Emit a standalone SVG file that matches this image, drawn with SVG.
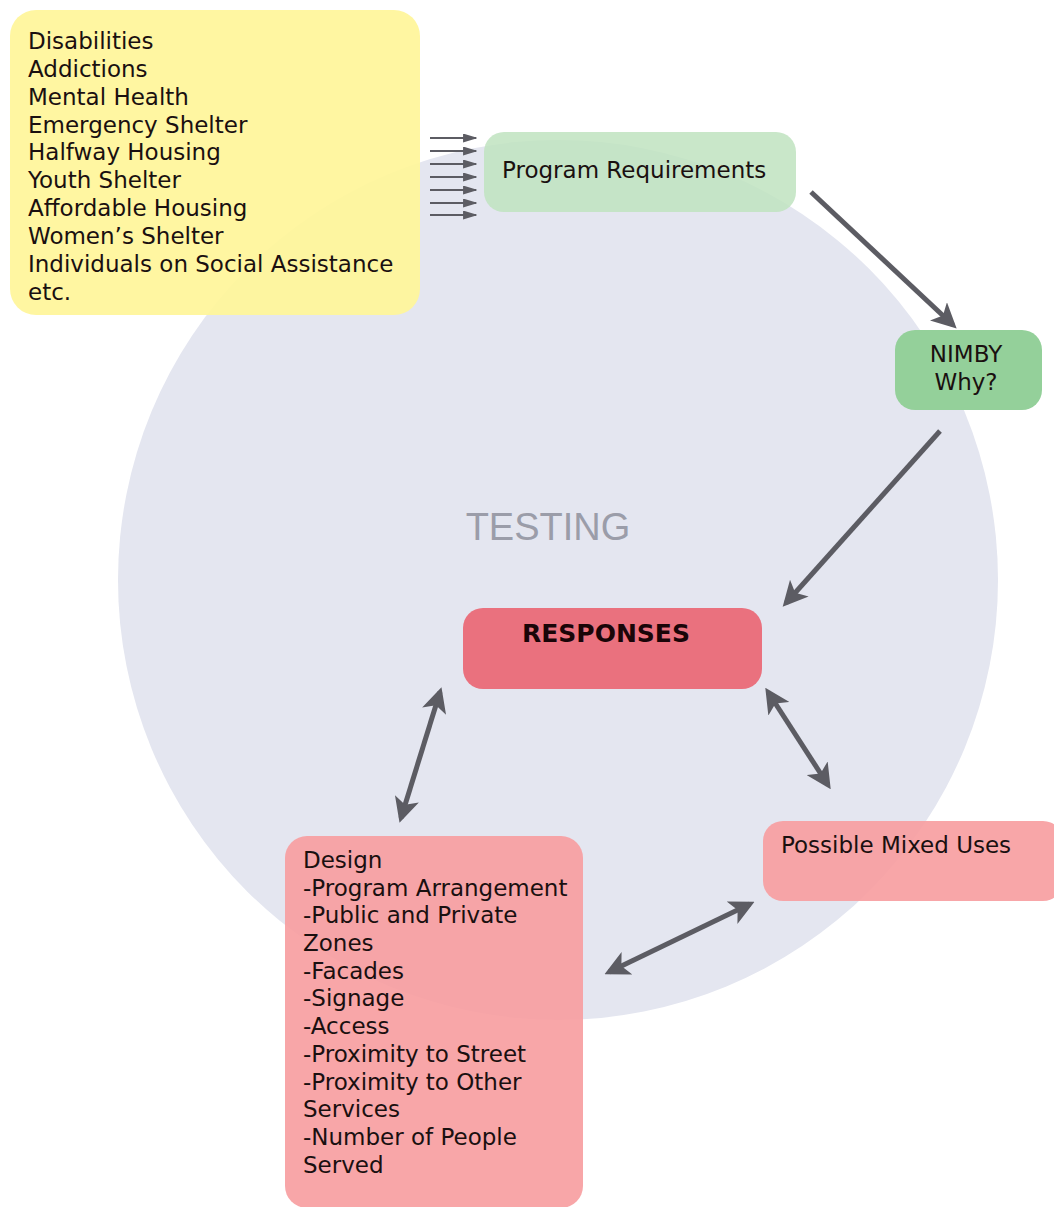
<svg xmlns="http://www.w3.org/2000/svg" width="1054" height="1207" viewBox="0 0 1054 1207">
<defs>
<style>
.t{font-family:"DejaVu Sans","Liberation Sans",sans-serif;font-size:23px;fill:#1a1010}
.c{stroke:#5c5c63;stroke-width:5;fill:none}
.s{stroke:#5c5c63;stroke-width:1.8;fill:none}
</style>
<marker id="ah" viewBox="0 0 10 10" refX="8" refY="5" markerWidth="5" markerHeight="5" orient="auto-start-reverse" markerUnits="strokeWidth"><path d="M0,0 L10,5 L0,10 L2.5,5 z" fill="#5c5c63"/></marker>
<marker id="sh" viewBox="0 0 10 10" refX="9" refY="5" markerWidth="8" markerHeight="5" preserveAspectRatio="none" orient="auto" markerUnits="strokeWidth"><path d="M0,0 L10,5 L0,10 z" fill="#5c5c63"/></marker>
</defs>
<rect width="1054" height="1207" fill="#ffffff"/>
<g id="testing">
<circle cx="558" cy="580" r="440" fill="#e4e6f0"/>
<text x="548" y="540" font-family="Liberation Sans, Arial, sans-serif" font-size="38" fill="#9b9da9" text-anchor="middle">TESTING</text>
</g>
<g id="groups">
<rect x="10" y="10" width="410" height="305" rx="26" fill="#fff59a" fill-opacity="0.93"/>
<text class="t"><tspan x="28" y="49">Disabilities</tspan><tspan x="28" y="77">Addictions</tspan><tspan x="28" y="105">Mental Health</tspan><tspan x="28" y="133">Emergency Shelter</tspan><tspan x="28" y="160">Halfway Housing</tspan><tspan x="28" y="188">Youth Shelter</tspan><tspan x="28" y="216">Affordable Housing</tspan><tspan x="28" y="244">Women’s Shelter</tspan><tspan x="28" y="272">Individuals on Social Assistance</tspan><tspan x="28" y="300">etc.</tspan></text>
</g>
<g id="program">
<rect x="484" y="132" width="312" height="80" rx="20" fill="#bfe3bf" fill-opacity="0.85"/>
<text class="t" x="502" y="178">Program Requirements</text>
</g>
<g id="nimby">
<rect x="895" y="330" width="147" height="80" rx="20" fill="#94d09a"/>
<text class="t" text-anchor="middle"><tspan x="966" y="362">NIMBY</tspan><tspan x="966" y="390">Why?</tspan></text>
</g>
<g id="responses">
<rect x="463" y="608" width="299" height="81" rx="20" fill="#ea717e"/>
<text class="t" x="606" y="642" text-anchor="middle" font-weight="bold" style="fill:#1a0508;font-size:25px">RESPONSES</text>
</g>
<g id="design">
<rect x="285" y="836" width="298" height="372" rx="22" fill="#f79ea1" fill-opacity="0.92"/>
<text class="t"><tspan x="303" y="868">Design</tspan><tspan x="303" y="896">-Program Arrangement</tspan><tspan x="303" y="923">-Public and Private</tspan><tspan x="303" y="951">Zones</tspan><tspan x="303" y="979">-Facades</tspan><tspan x="303" y="1006">-Signage</tspan><tspan x="303" y="1034">-Access</tspan><tspan x="303" y="1062">-Proximity to Street</tspan><tspan x="303" y="1090">-Proximity to Other</tspan><tspan x="303" y="1117">Services</tspan><tspan x="303" y="1145">-Number of People</tspan><tspan x="303" y="1173">Served</tspan></text>
</g>
<g id="mixed">
<rect x="763" y="821" width="300" height="80" rx="20" fill="#f79ea1" fill-opacity="0.92"/>
<text class="t" x="781" y="853">Possible Mixed Uses</text>
</g>
<g id="connectors">
<line class="s" x1="430" y1="138" x2="476" y2="138" marker-end="url(#sh)"/>
<line class="s" x1="430" y1="151" x2="476" y2="151" marker-end="url(#sh)"/>
<line class="s" x1="430" y1="164" x2="476" y2="164" marker-end="url(#sh)"/>
<line class="s" x1="430" y1="177" x2="476" y2="177" marker-end="url(#sh)"/>
<line class="s" x1="430" y1="190" x2="476" y2="190" marker-end="url(#sh)"/>
<line class="s" x1="430" y1="203" x2="476" y2="203" marker-end="url(#sh)"/>
<line class="s" x1="430" y1="215" x2="476" y2="215" marker-end="url(#sh)"/>
<line class="c" x1="811" y1="192" x2="953" y2="325" marker-end="url(#ah)"/>
<line class="c" x1="940" y1="431" x2="786" y2="603" marker-end="url(#ah)"/>
<line class="c" x1="440" y1="692" x2="401" y2="818" marker-start="url(#ah)" marker-end="url(#ah)"/>
<line class="c" x1="768" y1="692" x2="828" y2="785" marker-start="url(#ah)" marker-end="url(#ah)"/>
<line class="c" x1="750" y1="904" x2="609" y2="972" marker-start="url(#ah)" marker-end="url(#ah)"/>
</g>
</svg>
